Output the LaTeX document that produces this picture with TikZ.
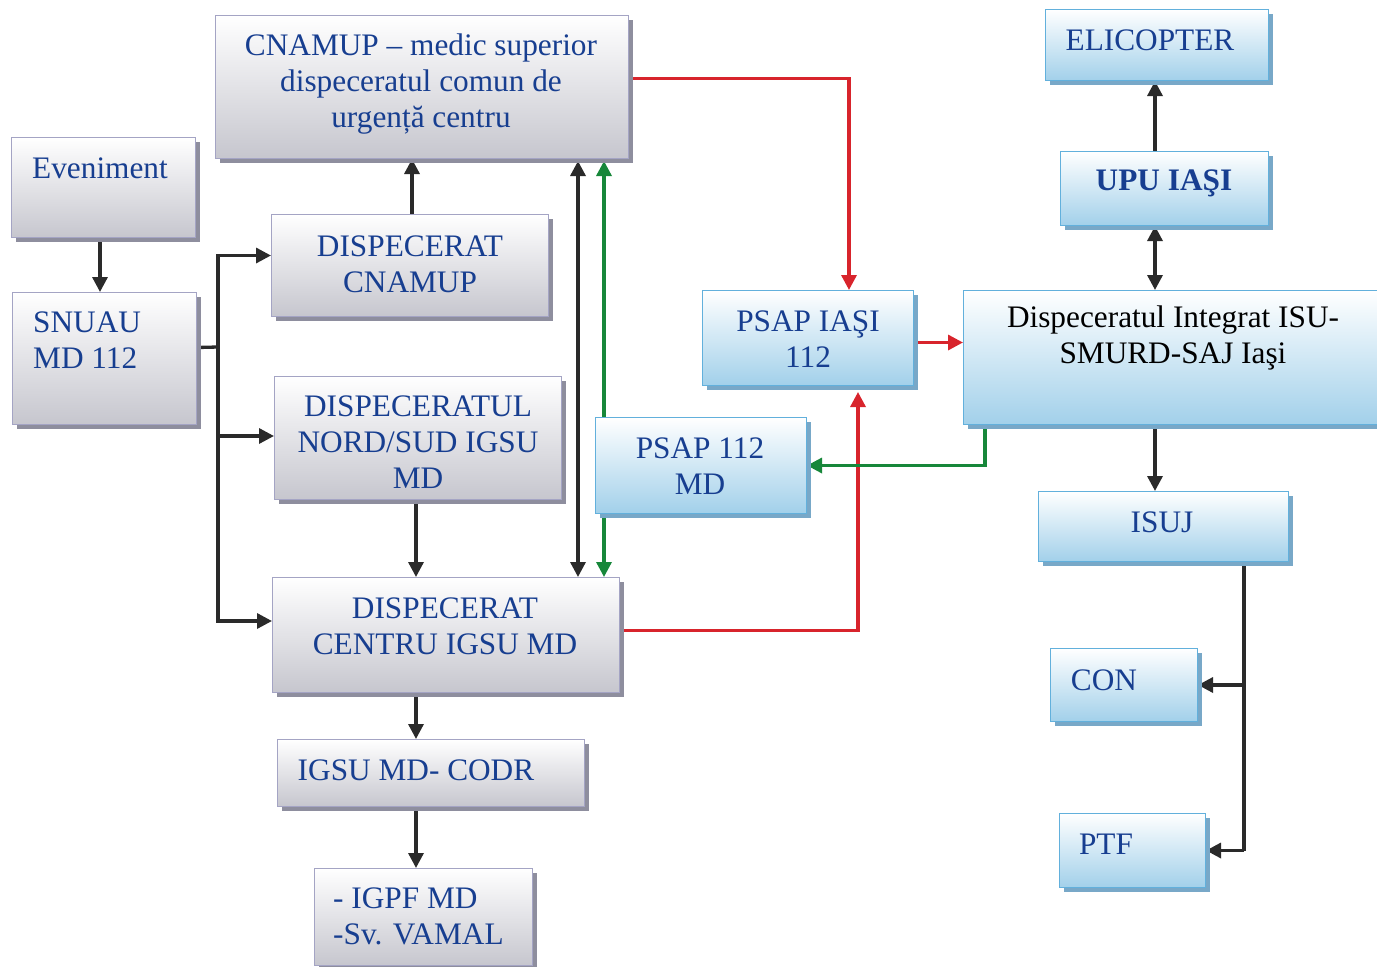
\documentclass[tikz,border=0pt]{standalone}
\usepackage{fontspec}
\setmainfont{Liberation Serif}
\usetikzlibrary{arrows.meta,shadows}
\definecolor{txtblue}{HTML}{173E90}
\definecolor{gedge}{HTML}{A4A4C4}
\definecolor{gbot}{HTML}{C6C6CE}
\definecolor{gshad}{HTML}{8E8E9E}
\definecolor{bedge}{HTML}{62B0DC}
\definecolor{bbot}{HTML}{A2D0EA}
\definecolor{bshad}{HTML}{78A8C8}
\definecolor{lblack}{HTML}{2A2A2A}
\definecolor{lred}{HTML}{D8242C}
\definecolor{lgreen}{HTML}{17873A}
\pgfdeclarelayer{bg}
\pgfsetlayers{bg,main}
\tikzset{
  boxbase/.style={anchor=north west, inner sep=0pt, line width=1pt},
  gbox/.style={boxbase, draw=gedge, top color=white, bottom color=gbot,
    drop shadow={shadow xshift=4pt, shadow yshift=-4pt, fill=gshad, opacity=1}},
  bbox/.style={boxbase, draw=bedge, top color=white, bottom color=bbot,
    drop shadow={shadow xshift=4pt, shadow yshift=-4pt, fill=bshad, opacity=1}},
  txt/.style={text=txtblue, font=\fontsize{31.3}{36}\selectfont, align=center, inner sep=0pt},
  conn/.style={line width=3.3pt},
  tip/.style={-{Triangle[length=15pt,width=15pt]}},
  dtip/.style={{Triangle[length=15pt,width=15pt]}-{Triangle[length=15pt,width=15pt]}},
  blk/.style={conn, draw=lblack},
  rd/.style={conn, draw=lred},
  gr/.style={conn, draw=lgreen},
}
\begin{document}
\begin{tikzpicture}[x=1pt,y=-1pt]
\useasboundingbox (0,0) rectangle (1377,967);
% boxes
\node[gbox, minimum width=413pt, minimum height=143pt] (cnamup) at (215,15) {};
\node[gbox, minimum width=184pt, minimum height=100pt] (even) at (11,137) {};
\node[gbox, minimum width=184pt, minimum height=132pt] (snuau) at (12,292) {};
\node[gbox, minimum width=277pt, minimum height=102pt] (dcnamup) at (271,214) {};
\node[gbox, minimum width=287pt, minimum height=123pt] (nord) at (274,376) {};
\node[gbox, minimum width=347pt, minimum height=115pt] (centru) at (272,577) {};
\node[gbox, minimum width=307pt, minimum height=67pt] (codr) at (277,739) {};
\node[gbox, minimum width=218pt, minimum height=97pt] (igpf) at (314,868) {};
\node[bbox, minimum width=211pt, minimum height=95pt] (psapi) at (702,290) {};
\node[bbox, minimum width=211pt, minimum height=96pt] (psapmd) at (595,417) {};
\node[bbox, minimum width=420pt, minimum height=134pt] (integ) at (963,290) {};
\node[bbox, minimum width=223pt, minimum height=71pt] (elic) at (1045,9) {};
\node[bbox, minimum width=208pt, minimum height=74pt] (upu) at (1060,151) {};
\node[bbox, minimum width=250pt, minimum height=70pt] (isuj) at (1038,491) {};
\node[bbox, minimum width=147pt, minimum height=73pt] (con) at (1050,648) {};
\node[bbox, minimum width=146pt, minimum height=74pt] (ptf) at (1059,813) {};
% texts
\node[txt] (tcnamup) at (421,84) {CNAMUP -- medic superior\\dispeceratul comun de\\urgență centru};
\node[txt] (teven) at (100,168) {Eveniment};
\node[txt, align=left, anchor=west] (tsnuau) at (33,340) {SNUAU\\MD 112};
\node[txt] (tdcnamup) at (410,264) {DISPECERAT\\CNAMUP};
\node[txt] (tnord) at (418,442) {DISPECERATUL\\NORD/SUD IGSU\\MD};
\node[txt] (tcentru) at (445,626) {DISPECERAT\\CENTRU IGSU MD};
\node[txt] (tcodr) at (416,770) {IGSU MD- CODR};
\node[txt, align=left, anchor=west] (tigpf) at (333,916) {- IGPF MD\\-Sv. VAMAL};
\node[txt] (tpsapi) at (808,339) {PSAP IAŞI\\112};
\node[txt] (tpsapmd) at (700,466) {PSAP 112\\MD};
\node[txt, text=black] (tinteg) at (1173,338) {Dispeceratul Integrat ISU-\\SMURD-SAJ Iaşi};
\node[txt] (telic) at (1150,40) {ELICOPTER};
\node[txt, font=\fontsize{31.3}{36}\selectfont\bfseries] (tupu) at (1164,183) {UPU IAŞI};
\node[txt] (tisuj) at (1162,522) {ISUJ};
\node[txt] (tcon) at (1104,680) {CON};
\node[txt] (tptf) at (1106,844) {PTF};
% helper coordinates
\coordinate (tj) at (218,347);
\coordinate (colm) at (416,0);
\coordinate (colb) at (578,0);
\coordinate (colg) at (604,0);
\coordinate (colr1) at (849,0);
\coordinate (colr2) at (858,0);
\coordinate (colgi) at (985,0);
\coordinate (colx) at (1155,0);
\coordinate (colr) at (1244,0);
\begin{pgfonlayer}{bg}
% left side
\draw[blk, tip] (even.south -| 100,0) -- (snuau.north -| 100,0);
\draw[blk] ([yshift=11pt]snuau.east) -- (tj);
\draw[blk, tip] (tj) |- ([yshift=10pt]dcnamup.west);
\draw[blk, tip] (tj) |- ([yshift=2pt]nord.west);
\draw[blk, tip] (tj) |- ([yshift=14pt]centru.west);
\draw[blk, tip] (dcnamup.north -| 412,0) -- (cnamup.south -| 412,0);
\draw[blk, tip] (nord.south -| colm) -- (centru.north -| colm);
\draw[blk, dtip] ([yshift=-2pt]cnamup.south -| colb) -- (centru.north -| colb);
\draw[gr, dtip] ([yshift=-2pt]cnamup.south -| colg) -- (centru.north -| colg);
\draw[blk, tip] (centru.south -| colm) -- (codr.north -| colm);
\draw[blk, tip] (codr.south -| colm) -- (igpf.north -| colm);
% red
\draw[rd, tip] ([yshift=8.5pt]cnamup.east) -| (psapi.north -| colr1);
\draw[rd, tip] ([yshift=-4.5pt]psapi.east) -- ([yshift=-4.5pt]psapi.east -| integ.west);
\draw[rd, tip] ([yshift=4.5pt]centru.east) -| ([yshift=-6pt]psapi.south -| colr2);
% green
\draw[gr, tip] (integ.south -| colgi) |- (psapmd.east);
% right side
\draw[blk, tip] (upu.north -| colx) -- (elic.south -| colx);
\draw[blk, dtip] (upu.south -| colx) -- (integ.north -| colx);
\draw[blk, tip] (integ.south -| colx) -- (isuj.north -| colx);
\draw[blk] (isuj.south -| colr) -- (ptf.east -| colr);
\draw[blk, tip] (con.east -| colr) -- (con.east);
\draw[blk, tip] (ptf.east -| colr) -- (ptf.east);
\end{pgfonlayer}
\end{tikzpicture}
\end{document}
